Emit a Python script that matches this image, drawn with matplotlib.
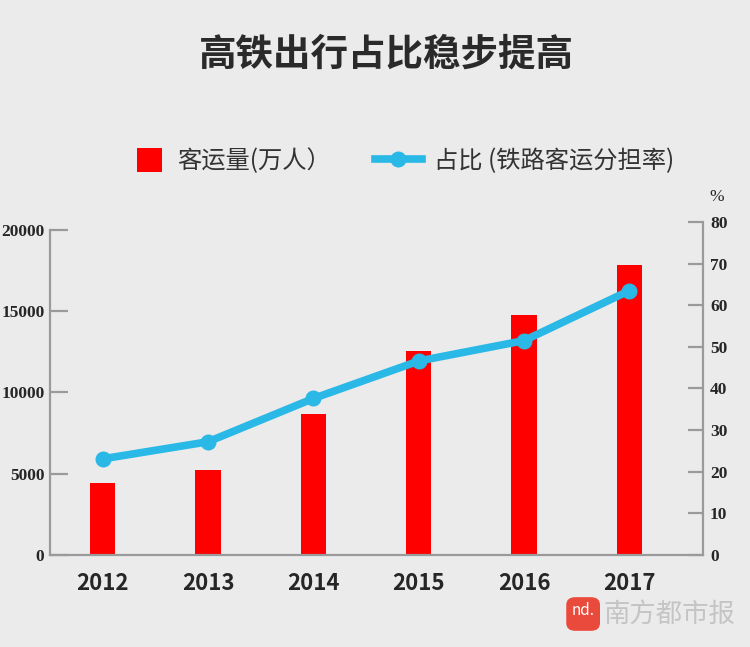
import matplotlib
matplotlib.use("Agg")
import matplotlib.pyplot as plt
from matplotlib.patches import FancyBboxPatch
from matplotlib.lines import Line2D
from matplotlib.patches import Patch

plt.rcParams['font.family'] = ['Noto Sans CJK SC', 'DejaVu Sans']

# data
years = ['2012', '2013', '2014', '2015', '2016', '2017']
passengers = [4450, 5200, 8700, 12550, 14750, 17850]   # 万人
share = [23.1, 27.2, 37.6, 46.6, 51.5, 63.5]            # %
left_ticks = [0, 5000, 10000, 15000, 20000]
right_ticks = [0, 10, 20, 30, 40, 50, 60, 70, 80]

bg = '#ebebeb'
red = '#ff0000'
blue = '#2ab8e6'
axis_gray = '#9a9a9a'
text_dark = '#262626'

fig = plt.figure(figsize=(7.5, 6.47), dpi=100, facecolor=bg)
ax = fig.add_axes([0.0667, 0.1422, 0.8707, 0.5147])
ax.set_facecolor(bg)
ax2 = ax.twinx()

x = list(range(len(years)))
ax.bar(x, passengers, width=0.24, color=red, zorder=2)
ax2.plot(x, share, color=blue, lw=5.5, marker='o', markersize=10.5,
         solid_capstyle='round', zorder=3)

ax.set_xlim(-0.5, 5.7)
ax.set_ylim(0, 20492)
ax2.set_ylim(0, 80)

# spines
for a in (ax, ax2):
    a.spines['top'].set_visible(False)
    for s in ('left', 'right', 'bottom'):
        a.spines[s].set_color(axis_gray)
        a.spines[s].set_linewidth(1.6)
ax.spines['right'].set_visible(False)
ax2.spines['left'].set_visible(False)
ax2.spines['bottom'].set_visible(False)
ax.spines['left'].set_bounds(0, 20000)

# ticks
ax.set_xticks(x)
ax.set_xticklabels(years)
ax.tick_params(axis='x', length=0, pad=12)
for lbl in ax.get_xticklabels():
    lbl.set_fontsize(16)
    lbl.set_fontweight('bold')
    lbl.set_color(text_dark)

ax.set_yticks(left_ticks)
ax.set_yticklabels([str(v) for v in left_ticks])
ax.tick_params(axis='y', direction='in', length=13, width=1.6, color=axis_gray, pad=4)
ax2.set_yticks(right_ticks)
ax2.set_yticklabels([str(v) for v in right_ticks])
ax2.tick_params(axis='y', direction='in', length=11, width=1.6, color=axis_gray, pad=5)
for lbl in ax.get_yticklabels() + ax2.get_yticklabels():
    lbl.set_fontfamily('Liberation Serif')
    lbl.set_fontweight('bold')
    lbl.set_fontsize(12.5)
    lbl.set_color(text_dark)

fig.text(0.956, 0.695, '%', ha='center', va='center', fontsize=12.5,
         family='Liberation Serif', color=text_dark)

# title
fig.text(0.515, 0.917, '高铁出行占比稳步提高', ha='center', va='center',
         fontsize=27, fontweight='heavy', color='#2a2a2a')

# legend: two separate entries so each handle gets its own size
leg1 = fig.legend([Patch(facecolor=red, edgecolor='none')], ['客运量(万人）'],
                  loc='center left', bbox_to_anchor=(137 / 750, 1 - 161 / 647),
                  frameon=False, fontsize=17.5, handlelength=1.03, handleheight=1.15,
                  handletextpad=0.62, borderpad=0, borderaxespad=0)
leg2 = fig.legend([Line2D([0], [0], color=blue, lw=5.5, marker='o', markersize=10.5)],
                  ['占比 (铁路客运分担率)'],
                  loc='center left', bbox_to_anchor=(375 / 750, 1 - 161 / 647),
                  frameon=False, fontsize=17.5, handlelength=1.93,
                  handletextpad=0.49, borderpad=0, borderaxespad=0)
for leg in (leg1, leg2):
    for t in leg.get_texts():
        t.set_color('#333333')

# watermark
logo = FancyBboxPatch((0.755, 0.025), 0.045, 0.052, boxstyle='round,pad=0.0,rounding_size=0.012',
                      transform=fig.transFigure, facecolor='#ea4a3c', edgecolor='none')
fig.patches.append(logo)
fig.text(0.7775, 0.056, 'nd.', ha='center', va='center', fontsize=11, color='white',
         style='italic')
fig.text(0.893, 0.05, '南方都市报', ha='center', va='center', fontsize=19,
         color='#c4c4c4', fontweight='light')

fig.savefig('out.png', dpi=100, facecolor=bg)
